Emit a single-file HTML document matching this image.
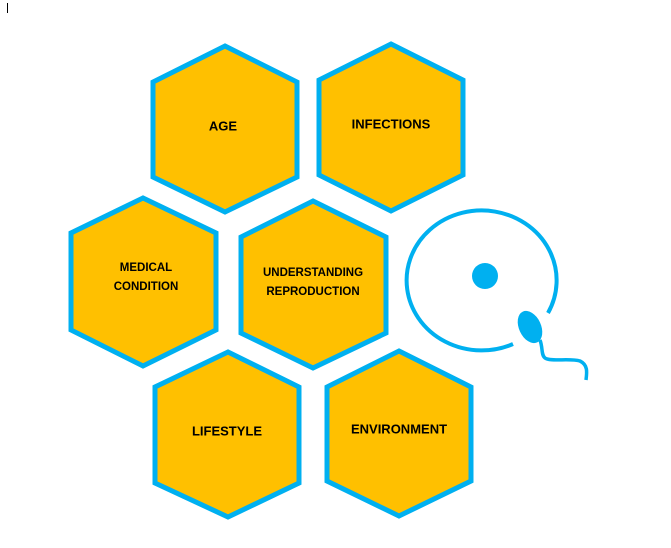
<!DOCTYPE html>
<html><head><meta charset="utf-8"><style>
html,body{margin:0;padding:0;background:#fff;}
svg{display:block;}
text{font-family:"Liberation Sans",sans-serif;font-weight:bold;fill:#000;text-anchor:middle;dominant-baseline:central;}
</style></head><body>
<svg width="671" height="548" viewBox="0 0 671 548" xmlns="http://www.w3.org/2000/svg">
<line x1="7.5" y1="3" x2="7.5" y2="13" stroke="#000" stroke-width="1"/>
<g fill="#FFC000" stroke="#00B0F0" stroke-width="5" stroke-linejoin="miter">
<polygon points="225,46 297,82 297,177 225,212 153,177 153,82"/>
<polygon points="391,44 463,80 463,175 391,211 319,175 319,80"/>
<polygon points="143,198 216,233 216,330 143,366 71,330 71,233"/>
<polygon points="313,201 386,237 386,333 313,368 241,333 241,237"/>
<polygon points="228,352 299,387 299,483 228,517 155,483 155,387"/>
<polygon points="399,351 471,387 471,481 399,516 327,481 327,387"/>
</g>
<text x="223" y="126" font-size="13">AGE</text>
<text x="391" y="124" font-size="13">INFECTIONS</text>
<text x="146" y="268" font-size="11.5">MEDICAL</text>
<text x="146" y="287" font-size="11.5">CONDITION</text>
<text x="313" y="273" font-size="11.5">UNDERSTANDING</text>
<text x="313" y="292" font-size="11.5">REPRODUCTION</text>
<text x="227" y="431" font-size="13">LIFESTYLE</text>
<text x="399" y="429" font-size="13">ENVIRONMENT</text>
<path d="M513,344 A75,70 0 1 1 548,313" fill="none" stroke="#00B0F0" stroke-width="4"/>
<circle cx="485" cy="276" r="13" fill="#00B0F0"/>
<ellipse cx="530" cy="327" rx="11" ry="17" transform="rotate(-25 530 327)" fill="#00B0F0"/>
<path d="M540,340 C543,348 541,355 545,358 C550,362 570,358 580,361 C588,365 587,372 586,380" fill="none" stroke="#00B0F0" stroke-width="3.5"/>
</svg>
</body></html>
